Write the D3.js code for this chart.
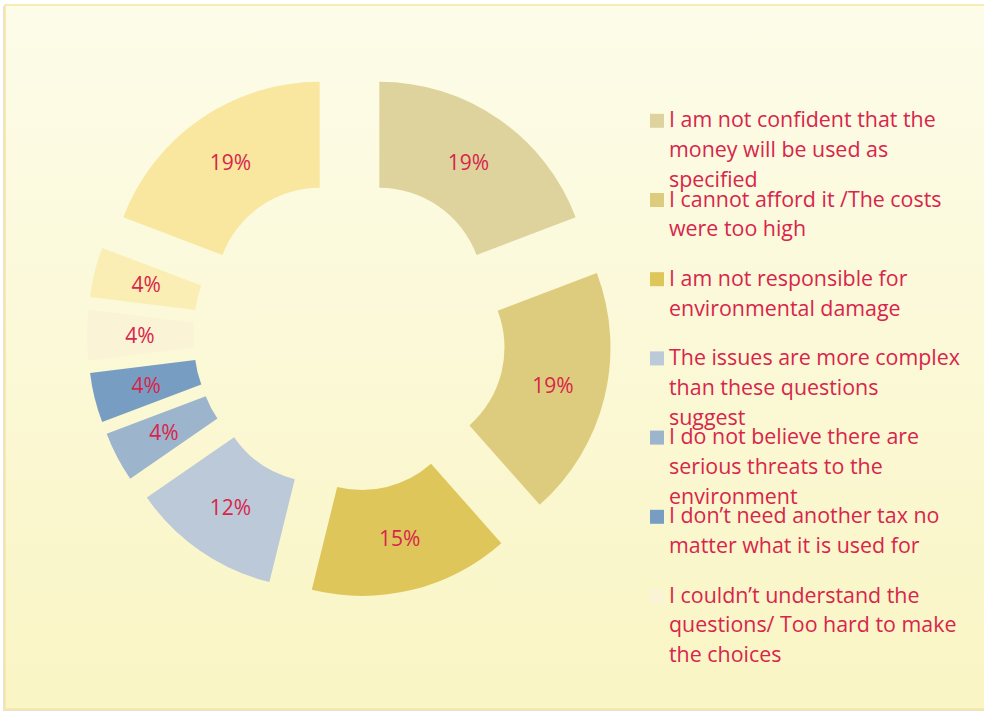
<!DOCTYPE html>
<html>
<head>
<meta charset="utf-8">
<script src="https://cdn.jsdelivr.net/npm/d3@7"></script>
<style>
  html, body { margin: 0; padding: 0; background: #ffffff; }
  svg { display: block; }
</style>
</head>
<body>
<svg id="chart" width="984" height="711"></svg>
<script>
// Number of respondents giving each reason (26 in total); slices are labelled with their share
const sliceCounts = [5, 5, 4, 3, 1, 1, 1, 1, 5];
const sliceColors = ["#DED39D", "#DECC7E", "#DEC65B", "#BCC9D8", "#9CB4CC", "#779EC2", "#FBF3D6", "#FAEEB5", "#F9E69F"];
const legendLabels = [
  ["I am not confident that the", "money will be used as", "specified"],
  ["I cannot afford it /The costs", "were too high"],
  ["I am not responsible for", "environmental damage"],
  ["The issues are more complex", "than these questions", "suggest"],
  ["I do not believe there are", "serious threats to the", "environment"],
  ["I don\u2019t need another tax no", "matter what it is used for"],
  ["I couldn\u2019t understand the", "questions/ Too hard to make", "the choices"]
];

const svg = d3.select("#chart");
const W = 984, H = 711;
const textColor = "#D8254B";
const fontFamily = "'Open Sans', Lato, sans-serif";
const total = d3.sum(sliceCounts);
const pct = d3.format(".0%");

// Panel background with soft vertical gradient
const defs = svg.append("defs");
const grad = defs.append("linearGradient").attr("id", "bg").attr("x1", 0).attr("y1", 0).attr("x2", 0).attr("y2", 1);
grad.append("stop").attr("offset", "0%").attr("stop-color", "#FDFCE9");
grad.append("stop").attr("offset", "100%").attr("stop-color", "#F9F5C4");

svg.append("rect").attr("x", 3).attr("y", 6).attr("width", W).attr("height", 705)
  .attr("fill", "#E6E3D2");
svg.append("rect").attr("x", 5).attr("y", 5).attr("width", W).attr("height", 704)
  .attr("fill", "url(#bg)").attr("stroke", "#F6E6A2").attr("stroke-width", 1.5);

// Exploded doughnut
const cx = 349.5, cy = 335;
const innerR = 104, outerR = 210, explode = 52.5;

const pie = d3.pie().sort(null).value(d => d).startAngle(0).endAngle(2 * Math.PI);
const arc = d3.arc().innerRadius(innerR).outerRadius(outerR);
const arcs = pie(sliceCounts);

const g = svg.append("g").attr("transform", `translate(${cx},${cy})`);
const slice = g.selectAll("g.slice").data(arcs).join("g")
  .attr("class", "slice")
  .attr("transform", d => {
    const a = (d.startAngle + d.endAngle) / 2;
    return `translate(${explode * Math.sin(a)},${-explode * Math.cos(a)})`;
  });

slice.append("path")
  .attr("d", arc)
  .attr("fill", (d, i) => sliceColors[i]);

slice.append("text")
  .attr("transform", d => `translate(${arc.centroid(d)})`)
  .attr("text-anchor", "middle")
  .attr("dy", "0.36em")
  .attr("font-family", fontFamily)
  .attr("font-size", 21)
  .attr("fill", textColor)
  .text(d => pct(d.data / total));

// Legend
const legend = svg.append("g");
const itemTop = 127.3, itemStep = 79.2, lineStep = 29.8;
legendLabels.forEach((lines, i) => {
  const base = itemTop + i * itemStep;
  legend.append("rect")
    .attr("x", 650).attr("y", base - 13.5)
    .attr("width", 14).attr("height", 14)
    .attr("fill", sliceColors[i]);
  const t = legend.append("text")
    .attr("x", 669).attr("y", base)
    .attr("font-family", fontFamily)
    .attr("font-size", 21.4)
    .attr("fill", textColor);
  lines.forEach((ln, j) => {
    t.append("tspan").attr("x", 669).attr("y", base + j * lineStep).text(ln);
  });
});
</script>
</body>
</html>
